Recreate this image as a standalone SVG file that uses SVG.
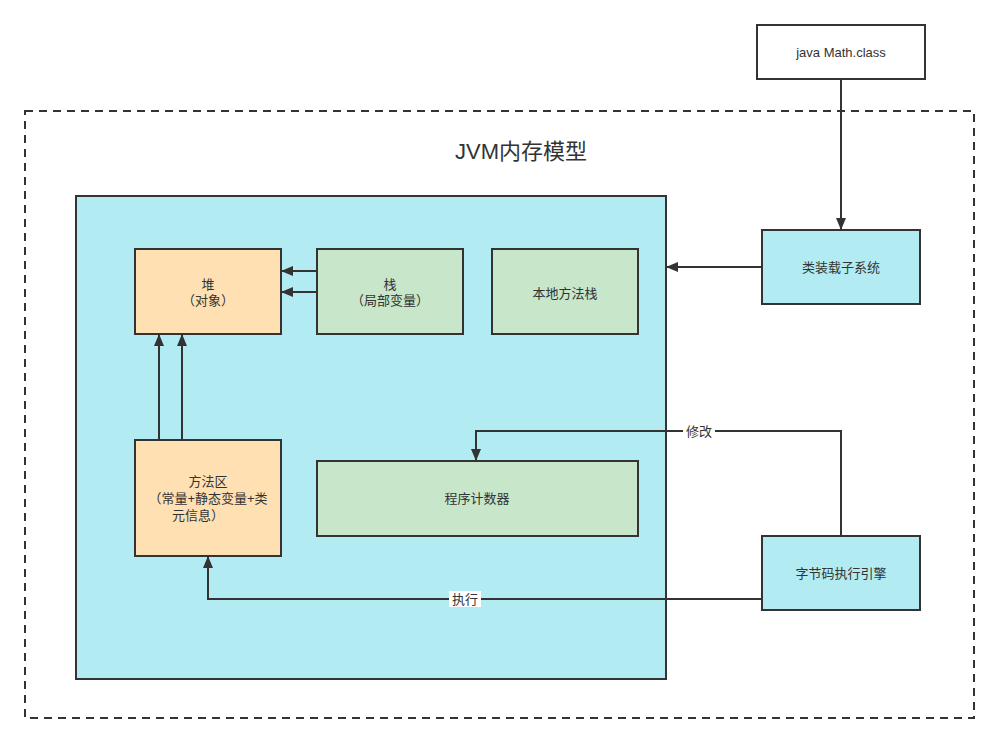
<svg xmlns="http://www.w3.org/2000/svg" width="999" height="744" viewBox="0 0 999 744">
<style>
.n{stroke:#333;stroke-width:2}
.t{font-family:"Liberation Sans","Noto Sans CJK SC",sans-serif;font-size:13px;fill:#333;text-anchor:middle}
.c{fill:none;stroke:#333;stroke-width:2}
.lbl{font-family:"Liberation Sans","Noto Sans CJK SC",sans-serif;font-size:13px;fill:#333;text-anchor:middle}
</style>
<defs>
<marker id="ah" viewBox="0 0 12 10" refX="11" refY="5" markerWidth="12" markerHeight="10" markerUnits="userSpaceOnUse" orient="auto"><path d="M0,0 L12,5 L0,10 z" fill="#333"/></marker>
</defs>
<rect width="999" height="744" fill="#fff"/>
<g id="jvm">
<rect x="25" y="111" width="949" height="607" fill="none" stroke="#333" stroke-width="2" stroke-dasharray="8 6"/>
<text x="521" y="159" style="font-family:'Liberation Sans','Noto Sans CJK SC',sans-serif;font-size:22px;fill:#333;text-anchor:middle">JVM内存模型</text>
</g>
<g id="runtime">
<rect class="n" x="76" y="196" width="590" height="483" fill="#b2ebf2"/>
</g>
<g id="heap">
<rect class="n" x="135" y="249" width="146" height="85" fill="#ffe0b2"/>
<text class="t" x="208" y="289">堆</text>
<text class="t" x="208" y="305">（对象）</text>
</g>
<g id="stack">
<rect class="n" x="317" y="249" width="146" height="85" fill="#c8e6c9"/>
<text class="t" x="390" y="289">栈</text>
<text class="t" x="390" y="305">（局部变量）</text>
</g>
<g id="native">
<rect class="n" x="492" y="249" width="146" height="85" fill="#c8e6c9"/>
<text class="t" x="565" y="298">本地方法栈</text>
</g>
<g id="method">
<rect class="n" x="135" y="440" width="146" height="116" fill="#ffe0b2"/>
<text class="t" x="208" y="486">方法区</text>
<text class="t" x="208" y="503">（常量+静态变量+类</text>
<text class="t" x="198" y="520">元信息）</text>
</g>
<g id="pc">
<rect class="n" x="317" y="461" width="321" height="75" fill="#c8e6c9"/>
<text class="t" x="477" y="503">程序计数器</text>
</g>
<g id="mathclass">
<rect class="n" x="757" y="25" width="168" height="54" fill="#fff"/>
<text class="t" x="841" y="57">java Math.class</text>
</g>
<g id="loader">
<rect class="n" x="762" y="230" width="158" height="74" fill="#b2ebf2"/>
<text class="t" x="841" y="272">类装载子系统</text>
</g>
<g id="engine">
<rect class="n" x="762" y="536" width="158" height="74" fill="#b2ebf2"/>
<text class="t" x="841" y="578">字节码执行引擎</text>
</g>
<g id="connectors">
<path class="c" d="M317,271 L282,271" marker-end="url(#ah)"/>
<path class="c" d="M317,292 L282,292" marker-end="url(#ah)"/>
<path class="c" d="M159,440 L159,335" marker-end="url(#ah)"/>
<path class="c" d="M182,440 L182,335" marker-end="url(#ah)"/>
<path class="c" d="M841,79 L841,229" marker-end="url(#ah)"/>
<path class="c" d="M762,267 L667,267" marker-end="url(#ah)"/>
<path class="c" d="M841,536 L841,431 L476,431 L476,460" marker-end="url(#ah)"/>
<path class="c" d="M762,599 L208,599 L208,557" marker-end="url(#ah)"/>
<rect x="683" y="423" width="32" height="16" fill="#fff"/>
<text class="lbl" x="699" y="436">修改</text>
<rect x="449" y="591" width="32" height="16" fill="#fff"/>
<text class="lbl" x="465" y="604">执行</text>
</g>
</svg>
